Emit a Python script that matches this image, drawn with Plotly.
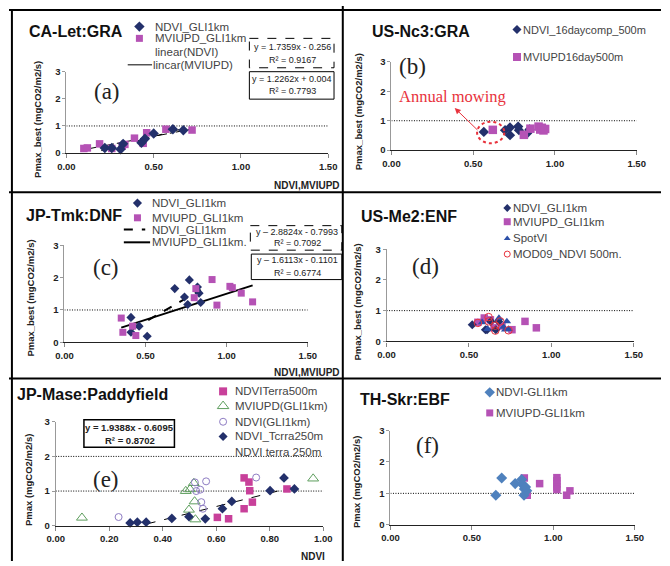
import plotly.graph_objects as go
import numpy as np

W, H = 670, 566
SANS = "Liberation Sans"
SERIF = "Liberation Serif"

# ---------------- data ----------------
# (a) CA-Let:GRA
a_ndvi_x = [0.22, 0.26, 0.31, 0.325, 0.43, 0.45, 0.50, 0.61, 0.67]
a_ndvi_y = [0.19, 0.19, 0.14, 0.34, 0.38, 0.53, 0.72, 0.88, 0.84]
a_mv_x = [0.10, 0.12, 0.19, 0.26, 0.32, 0.335, 0.39, 0.44, 0.46, 0.57, 0.72]
a_mv_y = [0.17, 0.19, 0.34, 0.17, 0.26, 0.32, 0.55, 0.36, 0.75, 0.88, 0.85]
a_fit_ndvi = (1.7359, -0.256, 0.20, 0.67)
a_fit_mv = (1.2262, 0.004, 0.12, 0.72)

# (b) US-Nc3:GRA
b_ndvi_x = [0.565, 0.695, 0.725, 0.725, 0.775, 0.78, 0.83, 0.845]
b_ndvi_y = [0.62, 0.68, 0.77, 0.51, 0.80, 0.68, 0.57, 0.70]
b_mv_x = [0.62, 0.81, 0.85, 0.90, 0.91, 0.92, 0.93, 0.94]
b_mv_y = [0.69, 0.52, 0.73, 0.80, 0.70, 0.76, 0.67, 0.72]

# (c) JP-Tmk:DNF
c_ndvi_x = [0.41, 0.41, 0.46, 0.51, 0.68, 0.77, 0.74, 0.76, 0.82, 0.83, 0.84]
c_ndvi_y = [0.77, 0.31, 0.50, 0.19, 1.66, 1.93, 1.40, 1.17, 1.71, 1.52, 1.23]
c_mv_x = [0.35, 0.36, 0.44, 0.42, 0.80, 0.81, 0.91, 0.94, 1.02, 1.035, 1.09, 1.16]
c_mv_y = [0.75, 0.31, 0.21, 0.50, 1.38, 1.66, 1.94, 1.15, 1.73, 1.69, 1.52, 1.25]
c_fit_ndvi = (2.8824, -0.7993, 0.42, 0.84)
c_fit_mv = (1.6113, -0.1101, 0.35, 1.16)

# (d) US-Me2:ENF
d_ndvi_x = [0.52, 0.60, 0.61, 0.633, 0.68, 0.663]
d_ndvi_y = [0.54, 0.38, 0.38, 0.65, 0.65, 0.38]
d_mv_x = [0.554, 0.593, 0.63, 0.652, 0.70, 0.761, 0.84, 0.909]
d_mv_y = [0.62, 0.76, 0.70, 0.44, 0.50, 0.38, 0.65, 0.44]
d_spot_x = [0.58, 0.613, 0.682, 0.73, 0.72, 0.74, 0.71]
d_spot_y = [0.62, 0.40, 0.76, 0.65, 0.38, 0.40, 0.47]
d_mod_x = [0.554, 0.619, 0.66, 0.66, 0.69, 0.74, 0.62]
d_mod_y = [0.60, 0.79, 0.51, 0.35, 0.65, 0.36, 0.65]

# (e) JP-Mase:Paddyfield
e_terra500_x = [0.704, 0.722, 0.725, 0.735, 0.704, 0.604, 0.646, 0.864]
e_terra500_y = [1.38, 1.26, 1.01, 0.68, 0.49, 0.24, 0.20, 1.06]
e_mvgli_x = [0.098, 0.486, 0.502, 0.516, 0.519, 0.498, 0.522, 0.962]
e_mvgli_y = [0.23, 1.00, 1.05, 1.23, 0.70, 0.46, 0.18, 1.36]
e_ndgli_x = [0.235, 0.52, 0.562, 0.54, 0.525, 0.544, 0.55, 0.749]
e_ndgli_y = [0.25, 1.25, 1.28, 1.04, 1.00, 0.68, 0.49, 1.39]
e_terra250_x = [0.278, 0.305, 0.338, 0.434, 0.498, 0.559, 0.623, 0.658, 0.801, 0.853, 0.892]
e_terra250_y = [0.08, 0.10, 0.10, 0.21, 0.26, 0.20, 0.49, 0.70, 1.01, 1.38, 1.06]
e_fit = (1.9388, -0.6095, 0.34, 0.88)

# (f) TH-Skr:EBF
f_ndvi_x = [0.647, 0.683, 0.766, 0.806, 0.81, 0.822, 0.82, 0.837, 0.83]
f_ndvi_y = [0.94, 1.49, 1.31, 1.44, 1.28, 1.14, 0.94, 1.08, 1.20]
f_mv_x = [0.822, 0.84, 0.916, 1.022, 1.022, 1.022, 1.022, 1.022, 1.082, 1.102]
f_mv_y = [1.49, 0.94, 1.31, 1.50, 1.40, 1.30, 1.20, 1.12, 0.94, 1.08]

x_ticks_15 = [0, 0.5, 1.0, 1.5]
x_ticks_10 = [0, 0.2, 0.4, 0.6, 0.8, 1.0]
y_ticks = [0, 1, 2, 3]

# colours
NAVY = "#23306B"
PURP = "#B552B5"
PINK = "#C8409A"
GREEN = "#5E9E5E"
LILAC = "#8E7CC3"
STEEL = "#4F81BD"
BLUE = "#2C4FA8"
RED = "#E8323C"

fig = go.Figure()

# panel geometry in pixels: (x0px, x1px, ytop_px, ybot_px, xmax)
geo = {
    1: (59, 328, 67, 150, 1.5),
    2: (393, 645, 57, 147, 1.5),
    3: (57, 307, 244, 343, 1.5),
    4: (388, 642, 248, 342, 1.5),
    5: (48, 323, 424, 530, 1.0),
    6: (392, 643, 433, 529, 1.5),
}

layout = dict(
    width=W, height=H, margin=dict(l=0, r=0, t=0, b=0),
    paper_bgcolor="white", plot_bgcolor="rgba(0,0,0,0)",
    showlegend=False,
)
for i, (x0, x1, yt, yb, xm) in geo.items():
    sfx = "" if i == 1 else str(i)
    tv = x_ticks_10 if xm == 1.0 else x_ticks_15
    layout["xaxis" + sfx] = dict(
        domain=[x0 / W, x1 / W], range=[0, xm], anchor="y" + sfx,
        tickvals=tv, ticktext=["%.2f" % v for v in tv],
        showline=True, linecolor="#222", linewidth=1.3,
        ticks="outside", ticklen=4, tickcolor="#888",
        showgrid=False, zeroline=False, fixedrange=True,
        tickfont=dict(family=SANS, size=9.5, color="#222", weight="bold"),
    )
    layout["yaxis" + sfx] = dict(
        domain=[1 - yb / H, 1 - yt / H], range=[0, 3], anchor="x" + sfx,
        tickvals=y_ticks, showline=True, linecolor="#999", linewidth=1,
        ticks="outside", ticklen=3, tickcolor="#999",
        showgrid=False, zeroline=False, fixedrange=True,
        tickfont=dict(family=SANS, size=9.5, color="#222", weight="bold"),
    )
# overlay pixel axis
layout["xaxis7"] = dict(domain=[0, 1], range=[0, W], visible=False, fixedrange=True, anchor="y7")
layout["yaxis7"] = dict(domain=[0, 1], range=[H, 0], visible=False, fixedrange=True, anchor="x7")
fig.update_layout(**layout)


def ax(i):
    return ("x", "y") if i == 1 else ("x%d" % i, "y%d" % i)


def pts(i, xs, ys, symbol, color, size, open_=False):
    xa, ya = ax(i)
    m = dict(symbol=symbol, size=size, color=color)
    if open_:
        m = dict(symbol=symbol + "-open", size=size, color=color, line=dict(width=1, color=color))
    else:
        m["line"] = dict(width=0)
    fig.add_trace(go.Scatter(x=xs, y=ys, mode="markers", marker=m, xaxis=xa, yaxis=ya,
                             cliponaxis=False, hoverinfo="skip"))


def fit(i, coef, dash, width):
    k, b, lo, hi = coef
    xs = np.array([lo, hi])
    xa, ya = ax(i)
    fig.add_trace(go.Scatter(x=xs, y=k * xs + b, mode="lines", xaxis=xa, yaxis=ya,
                             line=dict(color="black", width=width, dash=dash), hoverinfo="skip"))


def hline(i, yv):
    xa, ya = ax(i)
    fig.add_shape(type="line", xref=xa, yref=ya, x0=0, x1=geo[i][4], y0=yv, y1=yv,
                  line=dict(color="black", width=1, dash="1px,1.5px"), layer="below")


# reference lines
for i in range(1, 7):
    hline(i, 1)
hline(5, 2)

# trend lines
fit(1, a_fit_ndvi, "dash", 1)
fit(1, a_fit_mv, "dashdot", 1)
fit(3, c_fit_ndvi, "dash", 2)
fit(3, c_fit_mv, "solid", 2)
fit(5, e_fit, "dash", 1)

# data points
pts(1, a_mv_x, a_mv_y, "square", PURP, 7.5)
pts(1, a_ndvi_x, a_ndvi_y, "diamond", NAVY, 8)
pts(2, b_ndvi_x, b_ndvi_y, "diamond", NAVY, 8)
pts(2, b_mv_x, b_mv_y, "square", PURP, 8.5)
pts(3, c_ndvi_x, c_ndvi_y, "diamond", NAVY, 7)
pts(3, c_mv_x, c_mv_y, "square", PURP, 7)
pts(4, d_mv_x, d_mv_y, "square", PURP, 7.5)
pts(4, d_ndvi_x, d_ndvi_y, "diamond", NAVY, 7)
pts(4, d_spot_x, d_spot_y, "triangle-up", BLUE, 7.5)
pts(4, d_mod_x, d_mod_y, "circle", RED, 7.5, open_=True)
pts(5, e_terra500_x, e_terra500_y, "square", PINK, 7.5)
pts(5, e_mvgli_x, e_mvgli_y, "triangle-up", GREEN, 9.5, open_=True)
pts(5, e_ndgli_x, e_ndgli_y, "circle", LILAC, 7, open_=True)
pts(5, e_terra250_x, e_terra250_y, "diamond", NAVY, 7.5)
pts(6, f_mv_x, f_mv_y, "square", PURP, 7.5)
pts(6, f_ndvi_x, f_ndvi_y, "diamond", STEEL, 8.5)


# ---------------- decorations in pixel space ----------------
def txt(x, y, s, size, family=SANS, color="#333", bold=False, xanchor="left", angle=0):
    fig.add_annotation(x=x, y=y, xref="x7", yref="y7", text=s, showarrow=False,
                       xanchor=xanchor, yanchor="middle", textangle=angle, borderpad=0,
                       font=dict(family=family, size=size, color=color,
                                 weight="bold" if bold else "normal"))


def lmark(x, y, symbol, color, size, open_=False):
    m = dict(symbol=symbol + ("-open" if open_ else ""), size=size, color=color,
             line=dict(width=1 if open_ else 0, color=color))
    fig.add_trace(go.Scatter(x=[x], y=[y], mode="markers", marker=m, xaxis="x7", yaxis="y7",
                             cliponaxis=False, hoverinfo="skip"))


def lline(x0, x1, y, dash, width):
    fig.add_shape(type="line", xref="x7", yref="y7", x0=x0, x1=x1, y0=y, y1=y,
                  line=dict(color="black", width=width, dash=dash))


def box(x0, y0, x1, y1, dash="solid", width=1):
    fig.add_shape(type="rect", xref="x7", yref="y7", x0=x0, x1=x1, y0=y0, y1=y1,
                  line=dict(color="black", width=width, dash=dash), fillcolor="white", layer="below")


# panel borders
for (x0, y0, x1, y1) in [(0, 4, W, 4), (0, 190, W, 190), (0, 380, W, 380),
                         (3, 4, 3, H), (343, 0, 343, H)]:
    fig.add_shape(type="line", xref="x7", yref="y7", x0=x0, y0=y0, x1=x1, y1=y1,
                  line=dict(color="black", width=2))

# titles
txt(20, 26, "CA-Let:GRA", 16, bold=True, color="#111")
txt(372, 26, "US-Nc3:GRA", 16, bold=True, color="#111")
txt(16, 214, "JP-Tmk:DNF", 16, bold=True, color="#111")
txt(361, 215, "US-Me2:ENF", 16, bold=True, color="#111")
txt(7, 396, "JP-Mase:Paddyfield", 16, bold=True, color="#111")
txt(360, 401, "TH-Skr:EBF", 16, bold=True, color="#111")

# panel letters
for (x, y, s) in [(101, 87, "(a)"), (415, 62, "(b)"), (100, 267, "(c)"),
                  (428, 266, "(d)"), (100, 483, "(e)"), (430, 448, "(f)")]:
    txt(x, y, s, 23, family=SERIF, color="#222", xanchor="center")

# axis titles
YT1 = "Pmax_best (mgCO2/m2/s)"
YT2 = "Pmax (mgCO2/m2/s)"
txt(30, 116, YT1, 9.5, bold=True, color="#222", xanchor="center", angle=-90)
txt(360, 108, YT1, 9.5, bold=True, color="#222", xanchor="center", angle=-90)
txt(22, 298, YT1, 9.5, bold=True, color="#222", xanchor="center", angle=-90)
txt(358, 302, YT1, 9.5, bold=True, color="#222", xanchor="center", angle=-90)
txt(20, 483, YT2, 9.5, bold=True, color="#222", xanchor="center", angle=-90)
txt(357, 485, YT2, 9.5, bold=True, color="#222", xanchor="center", angle=-90)
XT = "NDVI,MVIUPD"
txt(341, 183, XT, 10, bold=True, color="#222", xanchor="right")
txt(672, 183, XT, 10, bold=True, color="#222", xanchor="right")
txt(341, 374, XT, 10, bold=True, color="#222", xanchor="right")
txt(672, 374, XT, 10, bold=True, color="#222", xanchor="right")
txt(312, 561, "NDVI", 10, bold=True, color="#222", xanchor="center")
txt(672, 558, XT, 10, bold=True, color="#222", xanchor="right")

# legends (a)
lmark(134, 21, "diamond", NAVY, 8)
txt(149, 21, "NDVI_GLI1km", 11.5, color="#444")
lmark(134, 33, "square", PURP, 7)
txt(149, 33, "MVIUPD_GLI1km", 11.5, color="#444")
txt(149, 47, "linear(NDVI)", 11.5, color="#444")
lline(122, 147, 60, "solid", 1)
txt(147, 60, "lincar(MVIUPD)", 11.5, color="#444")
box(247, 33, 334, 63, dash="dash")
txt(291, 42, "y = 1.7359x - 0.256", 9, color="#222", xanchor="center")
txt(291, 55, "R² = 0.9167", 9, color="#222", xanchor="center")
box(247, 67, 334, 95)
txt(291, 74, "y = 1.2262x + 0.004", 9, color="#222", xanchor="center")
txt(291, 87, "R² = 0.7793", 9, color="#222", xanchor="center")

# legends (b)
lmark(522, 24, "diamond", NAVY, 7)
txt(527, 24, "NDVI_16daycomp_500m", 11, color="#444")
lmark(522, 52, "square", PURP, 8)
txt(527, 52, "MVIUPD16day500m", 11, color="#444")
txt(456, 92, "Annual mowing", 16.5, family=SERIF, color=RED, xanchor="center")
fig.add_annotation(x=458, y=104, ax=483, ay=128, xref="x7", yref="y7", axref="x7", ayref="y7",
                   text="", showarrow=True, arrowhead=2, arrowsize=1.2, arrowwidth=1, arrowcolor=RED)
fig.add_shape(type="circle", xref="x7", yref="y7", x0=481, x1=509, y0=118, y1=140,
              line=dict(color=RED, width=2, dash="dot"))

# legends (c)
lmark(132, 201, "diamond", NAVY, 7)
txt(146, 201, "NDVI_GLI1km", 11.5, color="#444")
lmark(132, 216, "square", PURP, 7)
txt(146, 216, "MVIUPD_GLI1km", 11.5, color="#444")
lline(118, 140, 228, "dash", 2)
txt(146, 228, "NDVI_GLI1km", 11.5, color="#444")
lline(118, 145, 241, "solid", 2)
txt(146, 241, "MVIUPD_GLI1km.", 11.5, color="#444")
box(248, 224, 342, 249, dash="dash")
txt(296, 230, "y – 2.8824x - 0.7993", 9, color="#222", xanchor="center")
txt(296, 242, "R² = 0.7092", 9, color="#222", xanchor="center")
box(249, 253, 342, 279)
txt(296, 259, "y – 1.6113x - 0.1101", 9, color="#222", xanchor="center")
txt(296, 272, "R² = 0.6774", 9, color="#222", xanchor="center")

# legends (d)
lmark(512, 206, "diamond", NAVY, 6)
txt(517, 206, "NDVI_GLI1km", 11.5, color="#444")
lmark(512, 220, "square", PURP, 7)
txt(517, 220, "MVIUPD_GLI1km", 11.5, color="#444")
lmark(512, 237, "triangle-up", BLUE, 6)
txt(517, 237, "SpotVI", 11.5, color="#444")
lmark(512, 253, "circle", RED, 6, open_=True)
txt(517, 253, "MOD09_NDVI 500m.", 11.5, color="#444")

# legends (e)
lmark(220, 393, "square", PINK, 8)
txt(231, 393, "NDVITerra500m", 11.5, color="#444")
lmark(220, 408, "triangle-up", GREEN, 10, open_=True)
txt(231, 408, "MVIUPD(GLI1km)", 11.5, color="#444")
lmark(220, 424, "circle", LILAC, 7, open_=True)
txt(231, 424, "NDVI(GLI1km)", 11.5, color="#444")
lmark(220, 439, "diamond", NAVY, 7)
txt(231, 439, "NDVI_Tcrra250m", 11.5, color="#444")
txt(231, 455, "NDVI terra 250m", 11.5, color="#444")
box(77, 422, 170, 450, width=1.5)
txt(124, 430, "y = 1.9388x - 0.6095", 9.5, bold=True, color="#222", xanchor="center")
txt(124, 443, "R² = 0.8702", 9.5, bold=True, color="#222", xanchor="center")

# legends (f)
lmark(494, 394, "diamond", STEEL, 8)
txt(499, 394, "NDVI-GLI1km", 11.5, color="#444")
lmark(494, 415, "square", PURP, 7)
txt(499, 415, "MVIUPD-GLI1km", 11.5, color="#444")

fig.write_html("out.html")
